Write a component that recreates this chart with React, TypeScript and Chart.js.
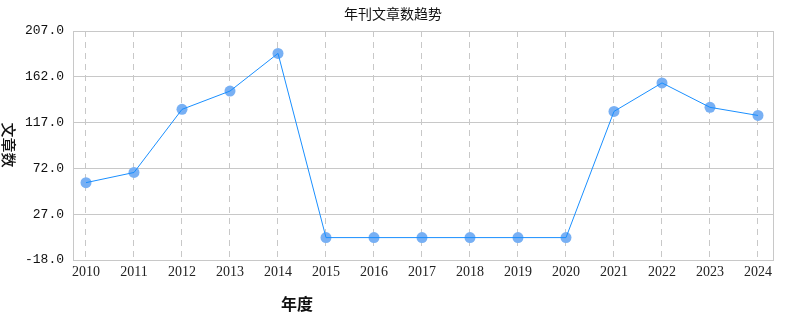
import React, { useEffect, useRef } from "react";
import { Chart, registerables } from "chart.js";

Chart.register(...registerables);

const years: number[] = [2010, 2011, 2012, 2013, 2014, 2015, 2016, 2017, 2018, 2019, 2020, 2021, 2022, 2023, 2024];
const articleCounts: number[] = [58, 68, 130, 148, 185, 4, 4, 4, 4, 4, 4, 128, 156, 132, 124];
const yTicks: number[] = [-18, 27, 72, 117, 162, 207];

const chartTitle = "年刊文章数趋势";
const xTitle = "年度";
const yTitle = "文章数";

const CJK = '"Noto Sans CJK SC", "Noto Sans", sans-serif';

// Draws the frame around the plot and the three titles.
const decorPlugin = {
  id: "decor",
  afterDatasetsDraw(chart: any) {
    const { ctx, chartArea } = chart;
    ctx.save();
    ctx.strokeStyle = "#c8c8c8";
    ctx.lineWidth = 1;
    ctx.setLineDash([]);
    ctx.strokeRect(
      Math.round(chartArea.left) + 0.5,
      Math.round(chartArea.top) + 0.5,
      Math.round(chartArea.right - chartArea.left),
      Math.round(chartArea.bottom - chartArea.top)
    );
    ctx.restore();
  },
  afterDraw(chart: any) {
    const { ctx } = chart;
    ctx.save();
    ctx.fillStyle = "#111";
    ctx.textAlign = "center";
    ctx.textBaseline = "middle";
    ctx.font = `14px ${CJK}`;
    ctx.fillText(chartTitle, 393, 14);
    ctx.font = `bold 16px ${CJK}`;
    ctx.fillText(xTitle, 297, 304);
    ctx.translate(9, 145);
    ctx.rotate(Math.PI / 2);
    ctx.font = `500 15px ${CJK}`;
    ctx.fillText(yTitle, 0, 0);
    ctx.restore();
  },
};

export default function App() {
  const canvasRef = useRef<HTMLCanvasElement | null>(null);

  useEffect(() => {
    document.body.style.margin = "0";
    const canvas = canvasRef.current;
    if (!canvas) return;
    const points = years.map((y, i) => ({ x: y, y: articleCounts[i] }));
    const chart = new Chart(canvas, {
      type: "line",
      data: {
        datasets: [
          {
            data: points,
            borderColor: "#1a8fff",
            borderWidth: 1,
            pointRadius: 0,
            fill: false,
            tension: 0,
            order: 0,
          },
          {
            data: points,
            showLine: false,
            pointRadius: 5.5,
            pointBackgroundColor: "#78b0f4",
            pointBorderWidth: 0,
            order: 1,
          },
        ],
      },
      plugins: [decorPlugin],
      options: {
        animation: false,
        responsive: false,
        maintainAspectRatio: false,
        layout: { padding: { left: 0, right: 25, top: 31, bottom: 0 } },
        plugins: {
          legend: { display: false },
          title: { display: false },
          tooltip: { enabled: false },
        },
        scales: {
          x: {
            type: "linear",
            min: years[0] - 13 / 48,
            max: years[years.length - 1] + 15 / 48,
            afterBuildTicks: (scale: any) => {
              scale.ticks = years.map((v) => ({ value: v }));
            },
            afterFit: (scale: any) => {
              scale.height = 70;
            },
            grid: {
              color: "#c8c8c8",
              drawTicks: false,
            },
            border: { display: false, dash: [6, 5] },
            ticks: {
              padding: 4,
              color: "#222",
              font: { family: '"Liberation Serif", serif', size: 14 },
              callback: (v: any) => String(v),
              maxRotation: 0,
              autoSkip: false,
            },
          },
          y: {
            type: "linear",
            min: yTicks[0],
            max: yTicks[yTicks.length - 1],
            afterBuildTicks: (scale: any) => {
              scale.ticks = yTicks.map((v) => ({ value: v }));
            },
            afterFit: (scale: any) => {
              scale.width = 73;
            },
            grid: { color: "#c8c8c8", drawTicks: false },
            border: { display: false },
            ticks: {
              padding: 9,
              color: "#111",
              font: { family: '"Liberation Mono", monospace', size: 13 },
              callback: (v: any) => Number(v).toFixed(1),
            },
          },
        },
      },
    } as any);
    return () => chart.destroy();
  }, []);

  return (
    <div style={{ width: 798, height: 330 }}>
      <canvas ref={canvasRef} width={798} height={330} style={{ display: "block" }} />
    </div>
  );
}
